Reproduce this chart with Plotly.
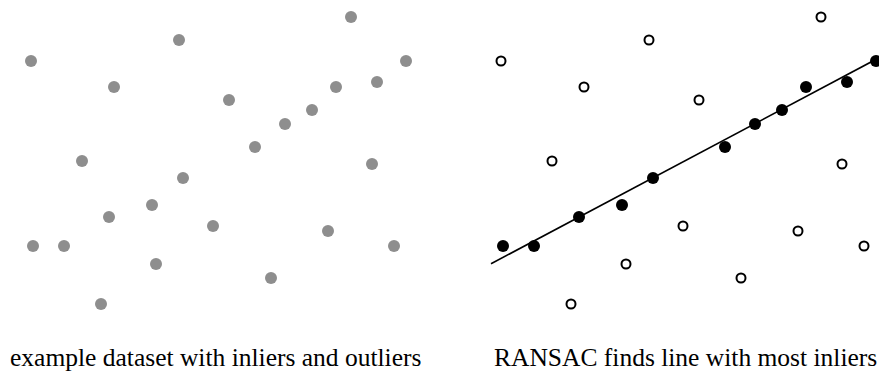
import plotly.graph_objects as go

# point cloud (same points in both panels)
pts_x = [35.1, 17.9, 3.1, 40.6, 11.4, 33.6, 37.7, 22.9, 31.2, 28.5, 25.5, 8.2,
         37.2, 18.3, 15.2, 10.9, 21.3, 32.8, 3.3, 6.4, 39.4, 15.6, 27.1, 10.1]
pts_y = [30.3, 28.0, 25.9, 25.9, 23.3, 23.3, 23.8, 22.0, 21.0, 19.6, 17.3, 15.9,
         15.6, 14.2, 11.5, 10.3, 9.4, 8.9, 7.4, 7.4, 7.4, 5.6, 4.2, 1.6]
is_inlier = [0, 0, 0, 1, 0, 1, 1, 0, 1, 1, 1, 0,
             0, 1, 1, 1, 0, 0, 1, 1, 0, 0, 0, 0]

# line found by RANSAC
line_slope = 0.531
line_intercept = 4.51
line_x = [2.1, 41.0]

captions = ["example dataset with inliers and outliers", "RANSAC finds line with most inliers"]

in_x = [x for x, f in zip(pts_x, is_inlier) if f]
in_y = [y for y, f in zip(pts_y, is_inlier) if f]
out_x = [x for x, f in zip(pts_x, is_inlier) if not f]
out_y = [y for y, f in zip(pts_y, is_inlier) if not f]

fig = go.Figure()

# left panel: all points gray
fig.add_trace(go.Scatter(x=pts_x, y=pts_y, mode="markers",
                         marker=dict(size=12, color="#8e8e8e", line=dict(width=0)),
                         xaxis="x", yaxis="y", hoverinfo="skip"))

# right panel: line, outliers, inliers
fig.add_trace(go.Scatter(x=line_x, y=[line_slope * x + line_intercept for x in line_x],
                         mode="lines", line=dict(color="black", width=1.6),
                         xaxis="x2", yaxis="y2", hoverinfo="skip"))
fig.add_trace(go.Scatter(x=out_x, y=out_y, mode="markers",
                         marker=dict(size=9, color="white", line=dict(color="black", width=2)),
                         xaxis="x2", yaxis="y2", hoverinfo="skip"))
fig.add_trace(go.Scatter(x=in_x, y=in_y, mode="markers",
                         marker=dict(size=12, color="black", line=dict(width=0)),
                         xaxis="x2", yaxis="y2", hoverinfo="skip"))

hidden = dict(showgrid=False, zeroline=False, showticklabels=False, showline=False, ticks="")

fig.update_layout(
    width=879, height=373,
    margin=dict(l=0, r=0, t=0, b=0),
    paper_bgcolor="white", plot_bgcolor="white",
    showlegend=False,
    xaxis=dict(domain=[0, 0.5], range=[0, 43.95], **hidden),
    yaxis=dict(domain=[0, 1], range=[-5.3, 32], **hidden),
    xaxis2=dict(domain=[470 / 879, 1], range=[0, 40.9], anchor="y2", **hidden),
    yaxis2=dict(domain=[0, 1], range=[-5.3, 32], anchor="x2", **hidden),
)

for cx, text in zip([215.5 / 879, 685 / 879], captions):
    fig.add_annotation(x=cx, y=1 - 357 / 373, xref="paper", yref="paper",
                       text=text, showarrow=False, xanchor="center", yanchor="middle",
                       font=dict(family="Liberation Serif", size=25.5, color="black"))

# drop the default page margin so the figure sits at the window corner
fig.write_html("out.html", config={"displayModeBar": False},
               post_script="document.body.style.margin='0';")
